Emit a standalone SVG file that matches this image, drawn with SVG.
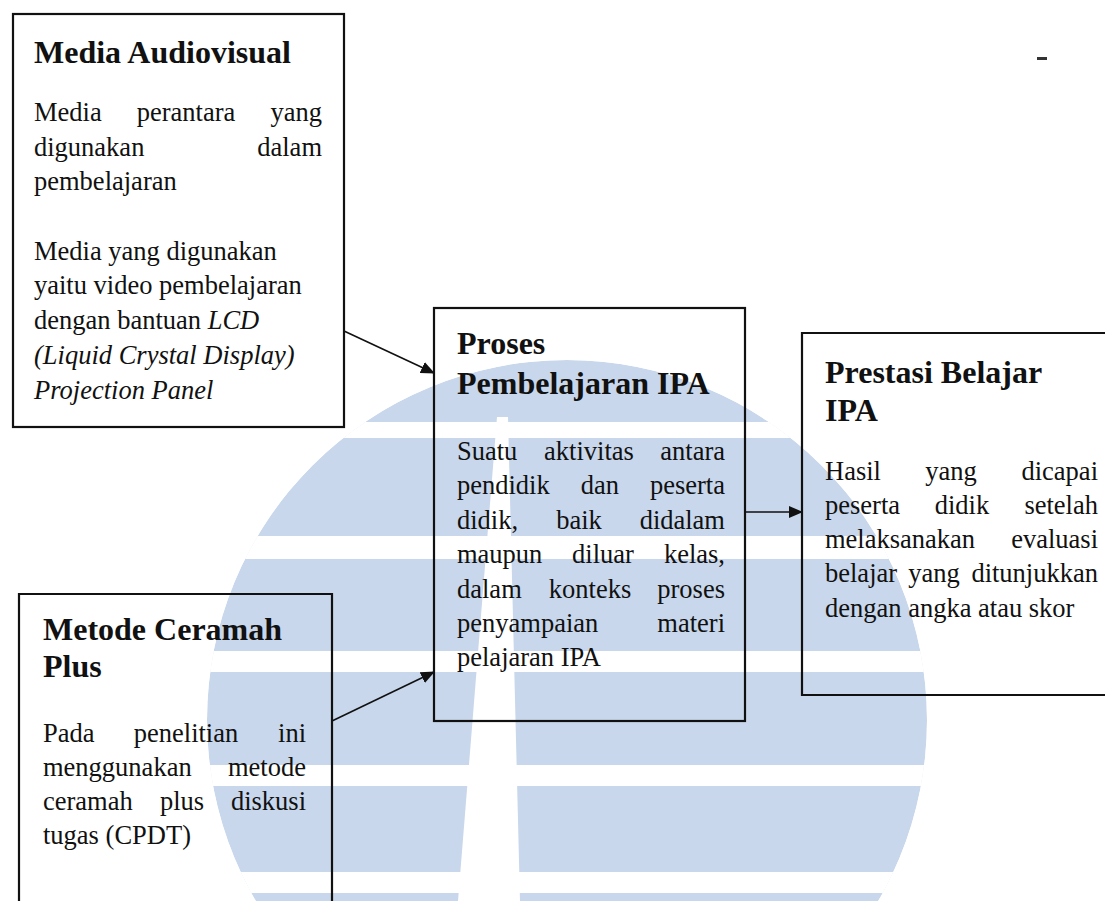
<svg xmlns="http://www.w3.org/2000/svg" width="1105" height="901" viewBox="0 0 1105 901">
<defs>
<style>
.box{fill:none;stroke:#111;stroke-width:2.2}
.t{font-family:"Liberation Serif","Times New Roman",serif;font-weight:bold;font-size:32px;fill:#111}
.b{font-family:"Liberation Serif","Times New Roman",serif;font-size:26.5px;fill:#111}
.i{font-style:italic}
.e{text-anchor:end}
.m{text-anchor:middle}
.con{stroke:#111;stroke-width:1.6;fill:none}
.wm{fill:#c8d7eb}
.gap{fill:#fff}
</style>
<marker id="ah" markerUnits="userSpaceOnUse" markerWidth="14" markerHeight="12" refX="13" refY="6" orient="auto">
<path d="M0,0 L14,6 L0,12 z" fill="#111"/>
</marker>
<clipPath id="wmclip"><circle cx="567" cy="720" r="360"/></clipPath>
</defs>
<rect width="1105" height="901" fill="#fff"/>
<g id="watermark" clip-path="url(#wmclip)">
<circle class="wm" cx="567" cy="720" r="360"/>
<rect class="gap" x="0" y="422" width="1105" height="16"/>
<rect class="gap" x="0" y="536" width="1105" height="23"/>
<rect class="gap" x="0" y="651" width="1105" height="21"/>
<rect class="gap" x="0" y="765" width="1105" height="21"/>
<rect class="gap" x="0" y="872" width="1105" height="21"/>
<polygon class="gap" points="497,417 508,417 520,901 458,901"/>
</g>
<rect x="1037" y="57" width="10" height="3" fill="#333"/>
<g id="connectors">
<line class="con" x1="344" y1="331" x2="434" y2="373" marker-end="url(#ah)"/>
<line class="con" x1="332" y1="721" x2="434" y2="672" marker-end="url(#ah)"/>
<line class="con" x1="745" y1="512" x2="802" y2="512" marker-end="url(#ah)"/>
</g>
<g id="media">
<rect class="box" x="13" y="14" width="331" height="413"/>
<text class="t" x="34" y="63">Media Audiovisual</text>
<text class="b" x="34" y="121">Media</text><text class="b m" x="186" y="121">perantara</text><text class="b e" x="322" y="121">yang</text>
<text class="b" x="34" y="156">digunakan</text><text class="b e" x="322" y="156">dalam</text>
<text class="b" x="34" y="190">pembelajaran</text>
<text class="b" x="34" y="260">Media yang digunakan</text>
<text class="b" x="34" y="294">yaitu video pembelajaran</text>
<text class="b" x="34" y="329">dengan bantuan <tspan class="i">LCD</tspan></text>
<text class="b i" x="34" y="364">(Liquid Crystal Display)</text>
<text class="b i" x="34" y="399">Projection Panel</text>
</g>
<g id="proses">
<rect class="box" x="434" y="308" width="311" height="413"/>
<text class="t" x="457" y="354">Proses</text>
<text class="t" x="457" y="394">Pembelajaran IPA</text>
<text class="b" x="457" y="460">Suatu</text><text class="b m" x="589" y="460">aktivitas</text><text class="b e" x="725" y="460">antara</text>
<text class="b" x="457" y="494">pendidik</text><text class="b m" x="600" y="494">dan</text><text class="b e" x="725" y="494">peserta</text>
<text class="b" x="457" y="529">didik,</text><text class="b m" x="579" y="529">baik</text><text class="b e" x="725" y="529">didalam</text>
<text class="b" x="457" y="563">maupun</text><text class="b m" x="603" y="563">diluar</text><text class="b e" x="725" y="563">kelas,</text>
<text class="b" x="457" y="598">dalam</text><text class="b m" x="590" y="598">konteks</text><text class="b e" x="725" y="598">proses</text>
<text class="b" x="457" y="632">penyampaian</text><text class="b e" x="725" y="632">materi</text>
<text class="b" x="457" y="666">pelajaran IPA</text>
</g>
<g id="prestasi">
<polyline class="box" points="1105,333 802,333 802,695 1105,695"/>
<text class="t" x="825" y="383">Prestasi Belajar</text>
<text class="t" x="825" y="421">IPA</text>
<text class="b" x="825" y="480">Hasil</text><text class="b m" x="951" y="480">yang</text><text class="b e" x="1098" y="480">dicapai</text>
<text class="b" x="825" y="514">peserta</text><text class="b m" x="962" y="514">didik</text><text class="b e" x="1098" y="514">setelah</text>
<text class="b" x="825" y="548">melaksanakan</text><text class="b e" x="1098" y="548">evaluasi</text>
<text class="b" x="825" y="582">belajar</text><text class="b m" x="934" y="582">yang</text><text class="b e" x="1098" y="582">ditunjukkan</text>
<text class="b" x="825" y="617">dengan angka atau skor</text>
</g>
<g id="metode">
<polyline class="box" points="19,901 19,594 332,594 332,901"/>
<text class="t" x="43" y="640">Metode Ceramah</text>
<text class="t" x="43" y="677">Plus</text>
<text class="b" x="43" y="742">Pada</text><text class="b m" x="186" y="742">penelitian</text><text class="b e" x="306" y="742">ini</text>
<text class="b" x="43" y="776">menggunakan</text><text class="b e" x="306" y="776">metode</text>
<text class="b" x="43" y="810">ceramah</text><text class="b m" x="182" y="810">plus</text><text class="b e" x="306" y="810">diskusi</text>
<text class="b" x="43" y="844">tugas (CPDT)</text>
</g>
</svg>
